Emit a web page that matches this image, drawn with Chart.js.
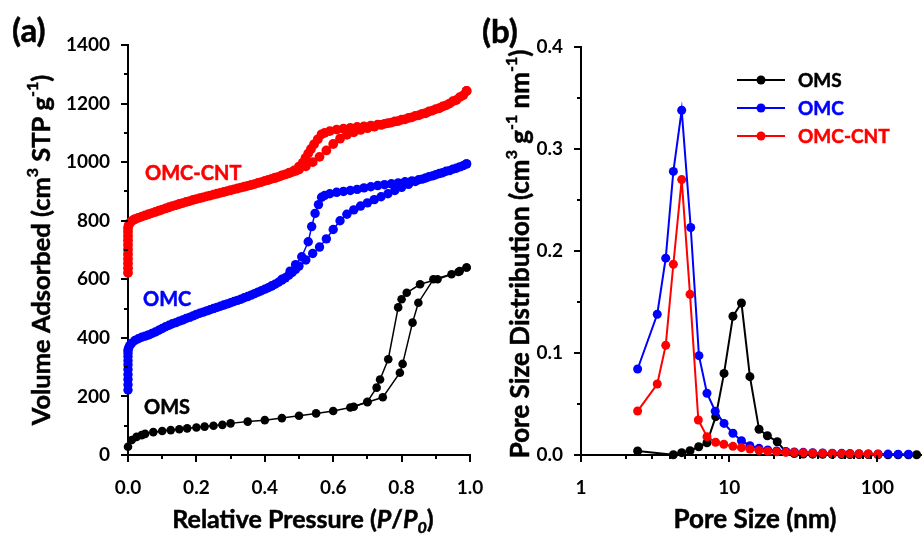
<!DOCTYPE html>
<html><head><meta charset="utf-8">
<script src="https://cdn.jsdelivr.net/npm/chart.js@4"></script>
<style>
html,body{margin:0;padding:0;background:#fff;}
#wrap{position:relative;width:922px;height:537px;overflow:hidden;background:#fff;}
#ca{position:absolute;left:0;top:0;}
#cb{position:absolute;left:480px;top:0;}
</style></head><body>
<div id="wrap">
<canvas id="ca" width="490" height="537"></canvas>
<canvas id="cb" width="442" height="537"></canvas>
</div>
<script>
// ---------- data: panel (a) N2 isotherms ----------
const omsAdsP = [0.000,0.011,0.025,0.040,0.050,0.074,0.100,0.125,0.150,0.173,0.200,0.224,0.250,0.276,0.300,0.350,0.400,0.450,0.500,0.550,0.600,0.650,0.700,0.745,0.795,0.803,0.832,0.849,0.893,0.946,0.970,0.990];
const omsAdsV = [28,51,62,68,72,78,82,85,88,91,94,97,100,103,108,114,119,126,134,142,150,162,180,197,281,311,452,520,600,617,628,640];
const omsDesP = [0.990,0.966,0.905,0.854,0.815,0.800,0.790,0.761,0.737,0.727,0.700,0.660];
const omsDesV = [640,625,600,583,554,532,504,327,258,230,182,165];

const omcAdsP = [0,0,0,0,0,0,0,0,0,0,0.002,0.005,0.01,0.02,0.03,0.04,0.05,
  0.06,0.07,0.08,0.09,0.10,0.11,0.12,0.13,0.14,0.15,0.16,0.17,0.18,0.19,0.20,0.21,0.22,0.23,0.24,0.25,0.26,0.27,0.28,0.29,0.30,
  0.31,0.32,0.33,0.34,0.35,0.36,0.37,0.38,0.39,0.40,0.41,0.42,0.43,0.44,0.45,0.46,0.47,0.48,0.49,0.50,
  0.52,0.54,0.56,0.58,0.60,0.62,0.64,0.66,0.68,0.70,0.72,0.74,0.76,0.78,0.80,0.82,0.84,0.86,0.88,0.90,0.92,0.94,0.96,0.98,0.99];
const omcAdsV = [222,240,258,275,292,308,322,336,348,358,366,374,381,391,397,402,406,
  410,415,420,426,432,438,443,448,452,457,461,466,470,475,480,484,488,492,496,500,504,508,512,516,520,
  524,528,532,537,541,546,551,556,561,566,571,577,583,590,597,605,614,623,634,645,
  666,688,710,738,770,800,822,837,850,861,872,882,892,903,914,924,934,942,950,957,964,971,979,988,994];
const omcDesP = [0.99,0.97,0.95,0.93,0.91,0.89,0.87,0.85,0.83,0.81,0.79,0.77,0.75,0.73,0.71,0.69,0.67,0.65,0.63,0.61,0.59,0.575,0.566,0.557,0.547,0.537,0.527,0.508,0.49,0.474,0.45,0.42];
const omcDesV = [994,984,976,969,961,953,946,940,936,933,929,926,923,920,916,912,907,903,900,897,892,886,880,855,825,780,728,677,650,628,600,577];

const cntAdsP = [0,0,0,0,0,0,0,0,0,0,0,0.002,0.005,0.01,0.015,0.02,0.03,0.04,0.05,
  0.06,0.07,0.08,0.09,0.10,0.11,0.12,0.13,0.14,0.15,0.16,0.17,0.18,0.19,0.20,0.21,0.22,0.23,0.24,0.25,0.26,0.27,0.28,0.29,0.30,
  0.31,0.32,0.33,0.34,0.35,0.36,0.37,0.38,0.39,0.40,0.41,0.42,0.43,0.44,0.45,0.46,0.47,0.48,0.49,0.50,
  0.52,0.54,0.56,0.58,0.60,0.62,0.64,0.66,0.68,0.70,0.72,0.74,0.76,0.78,0.80,0.82,0.84,0.86,0.88,0.90,0.92,0.94,0.96,0.98,0.99];
const cntAdsV = [622,638,654,670,686,702,718,733,748,762,775,785,792,798,802,805,810,814,818,
  822,826,830,834,838,842,846,850,853,857,860,864,867,871,874,877,880,883,886,889,892,895,898,901,904,
  907,910,913,916,919,922,925,929,932,936,939,943,946,950,954,958,962,966,970,975,
  986,1000,1018,1040,1062,1080,1093,1102,1110,1116,1121,1127,1133,1139,1145,1151,1158,1165,1173,1181,1190,1200,1212,1228,1243];
const cntDesP = [0.99,0.97,0.95,0.93,0.91,0.89,0.87,0.85,0.83,0.81,0.79,0.77,0.75,0.73,0.71,0.69,0.67,0.65,0.63,0.61,0.59,0.575,0.566,0.555,0.544,0.535,0.527,0.519,0.511,0.5,0.486,0.472,0.45,0.43];
const cntDesV = [1243,1222,1208,1194,1184,1176,1167,1160,1153,1146,1140,1135,1131,1128,1125,1122,1120,1117,1114,1111,1106,1100,1095,1078,1061,1045,1030,1014,998,985,972,964,955,947];

// ---------- data: panel (b) pore size distributions ----------
const omsPoreD = [2.41,4.20,4.78,5.44,6.23,7.08,8.11,9.23,10.6,12.1,13.8,15.9,18.1,21.1,24.1,27.5,31.6,36.6,42.7,49.6,57.4,65.3,75.2,86.8,101,118,138,162,184];
const omsPsd   = [0.0039,0.0003,0.0023,0.0042,0.0081,0.012,0.0376,0.080,0.136,0.149,0.0768,0.0252,0.0189,0.013,0.003,0.0015,0.001,0.0008,0.0007,0.0006,0.0005,0.0005,0.0004,0.0004,0.0003,0.0003,0.0003,0.0003,0.0002];
const omcPoreD = [2.41,3.27,3.73,4.20,4.78,5.50,6.25,7.08,8.05,9.23,10.6,12.1,13.8,15.9,18.2,20.9,24.1,27.5,31.6,36.6,42.7,49.6,57.4,65.3,75.2,86.8,101,118,138,162];
const omcPsd   = [0.0843,0.138,0.193,0.278,0.338,0.223,0.0974,0.0605,0.043,0.031,0.0213,0.014,0.0091,0.0065,0.005,0.004,0.0034,0.003,0.0026,0.0023,0.002,0.0018,0.0016,0.0014,0.0012,0.0011,0.001,0.0009,0.0008,0.0007];
const cntPoreD = [2.41,3.27,3.73,4.20,4.78,5.44,6.19,7.08,8.10,9.20,10.6,12.1,13.8,15.9,18.2,20.9,24.1,27.5,31.6,36.6,42.7,49.6,57.4,65.3,75.2,86.8,101];
const cntPsd   = [0.0431,0.0696,0.1075,0.187,0.270,0.1575,0.0343,0.018,0.0125,0.0105,0.0085,0.0072,0.0058,0.0045,0.0037,0.0031,0.0027,0.0024,0.0021,0.0019,0.0017,0.0015,0.0013,0.0012,0.0011,0.001,0.0008];

// ---------- ticks / labels ----------
const pressureTicks = [0,0.2,0.4,0.6,0.8,1.0];
const pressureMinor = [0.1,0.3,0.5,0.7,0.9];
const volumeTicks = [0,200,400,600,800,1000,1200,1400];
const volumeMinor = [100,300,500,700,900,1100,1300];
const poreTicks = [1,10,100];
const poreMinor = [2,3,4,5,6,7,8,9,20,30,40,50,60,70,80,90];
const psdTicks = [0,0.1,0.2,0.3,0.4];
const psdMinor = [0.05,0.15,0.25,0.35];
const seriesNames = ['OMS','OMC','OMC-CNT'];
const seriesColors = ['#000000','#0000ff','#ff0000'];

const FAM = 'Lato, "Open Sans", "DejaVu Sans", sans-serif';
Chart.defaults.font.family = FAM;
Chart.defaults.font.weight = 'bold';
Chart.defaults.color = '#000';

function pairs(xs, ys){ return xs.map((x,i)=>({x:x, y:ys[i]})); }

function richText(ctx, runs, x, y, size, rot, align){
  ctx.save();
  ctx.translate(x, y);
  if (rot) ctx.rotate(rot);
  const fontFor = r => (r.it ? 'italic ' : '') + 'bold ' + ((r.sup||r.sub) ? Math.round(size*0.62) : size) + 'px ' + FAM;
  let w = 0;
  runs.forEach(r => { ctx.font = fontFor(r); r.w = ctx.measureText(r.t).width; w += r.w; });
  let cx = align === 'left' ? 0 : -w/2;
  ctx.textBaseline = 'alphabetic';
  ctx.textAlign = 'left';
  const base = size*0.36;
  runs.forEach(r => {
    ctx.font = fontFor(r);
    const dy = r.sup ? -size*0.47 : (r.sub ? size*0.2 : 0);
    ctx.fillStyle = r.c || '#000';
    ctx.strokeStyle = r.c || '#000';
    ctx.lineWidth = 0.5;
    ctx.fillText(r.t, cx, base + dy);
    ctx.strokeText(r.t, cx, base + dy);
    cx += r.w;
  });
  ctx.restore();
}

const tickPlugin = {
  id: 'minorTicks',
  afterDraw(chart, args, opts){
    const ctx = chart.ctx;
    ctx.save();
    ctx.strokeStyle = '#000';
    ctx.lineWidth = 2;
    Object.keys(opts.scales || {}).forEach(id => {
      const s = chart.scales[id];
      const spec = opts.scales[id];
      const draw = (v, len) => {
        ctx.beginPath();
        const p = Math.round(s.getPixelForValue(v));
        if (s.isHorizontal()) { ctx.moveTo(p, s.top); ctx.lineTo(p, s.top + len); }
        else { ctx.moveTo(s.right - len, p); ctx.lineTo(s.right, p); }
        ctx.stroke();
      };
      spec.major.forEach(v => draw(v, 7));
      spec.minor.forEach(v => draw(v, 4));
    });
    ctx.restore();
  }
};

function lineDs(data, color, lw, r, order){
  return {data:data, showLine:true, borderColor:color, backgroundColor:color,
    pointBackgroundColor:color, pointBorderColor:color, pointBorderWidth:0,
    pointRadius:r, borderWidth:lw, tension:0, clip:false, order:order};
}
function fitX(h){ return s => { s.height = h; s.paddingLeft = 0; s.paddingRight = 0; }; }
function fitY(w){ return s => { s.width = w; s.paddingTop = 0; s.paddingBottom = 0; }; }

// ---------- panel (a) ----------
const textA = {
  id:'textA',
  afterDraw(chart){
    const ctx = chart.ctx;
    richText(ctx, [{t:'(a)'}], 12, 30, 33, 0, 'left');
    richText(ctx, [{t:'OMC-CNT', c:seriesColors[2]}], 145, 173, 20, 0, 'left');
    richText(ctx, [{t:'OMC', c:seriesColors[1]}], 143, 299, 20, 0, 'left');
    richText(ctx, [{t:'OMS', c:seriesColors[0]}], 144, 407, 20, 0, 'left');
    richText(ctx, [{t:'Relative Pressure ('},{t:'P', it:true},{t:'/'},{t:'P', it:true},{t:'0', it:true, sub:true},{t:')'}], 303, 519, 25, 0);
    richText(ctx, [{t:'Volume Adsorbed (cm'},{t:'3', sup:true},{t:' STP g'},{t:'-1', sup:true},{t:')'}], 41, 250, 25.5, -Math.PI/2);
  }
};

new Chart(document.getElementById('ca'), {
  type:'scatter',
  data:{datasets:[
    lineDs(pairs(omsAdsP, omsAdsV), seriesColors[0], 1.5, 4.3, 0),
    lineDs(pairs(omsDesP, omsDesV), seriesColors[0], 1.5, 4.3, 0),
    lineDs(pairs(omcAdsP, omcAdsV), seriesColors[1], 1.5, 4.7, 1),
    lineDs(pairs(omcDesP, omcDesV), seriesColors[1], 1.5, 4.7, 1),
    lineDs(pairs(cntAdsP, cntAdsV), seriesColors[2], 1.5, 4.9, 2),
    lineDs(pairs(cntDesP, cntDesV), seriesColors[2], 1.5, 4.9, 2)
  ]},
  options:{
    responsive:false, animation:false, events:[],
    layout:{autoPadding:false, padding:{top:45, right:20, left:0, bottom:0}},
    plugins:{legend:{display:false}, tooltip:{enabled:false},
      minorTicks:{scales:{x:{major:pressureTicks, minor:pressureMinor}, y:{major:volumeTicks, minor:volumeMinor}}}},
    scales:{
      x:{type:'linear', min:0, max:1, position:'bottom',
        afterFit: fitX(82),
        afterBuildTicks(s){ s.ticks = pressureTicks.map(v=>({value:v})); },
        ticks:{callback:v=>Number(v).toFixed(1), font:{size:19, weight:'bold'}, color:'#000', padding:21, maxRotation:0, autoSkip:false},
        grid:{display:true, drawOnChartArea:false, drawTicks:false},
        border:{display:true, color:'#000', width:2}},
      y:{type:'linear', min:0, max:1400, position:'left',
        afterFit: fitY(128),
        afterBuildTicks(s){ s.ticks = volumeTicks.map(v=>({value:v})); },
        ticks:{callback:v=>String(v), font:{size:19, weight:'bold'}, color:'#000', padding:18, autoSkip:false},
        grid:{display:true, drawOnChartArea:false, drawTicks:false},
        border:{display:true, color:'#000', width:2}}
    }
  },
  plugins:[tickPlugin, textA]
});

// ---------- panel (b) ----------
const textB = {
  id:'textB',
  afterDraw(chart){
    const ctx = chart.ctx;
    richText(ctx, [{t:'(b)'}], 2, 31, 33, 0, 'left');
    for (let i = 0; i < 3; i++) {
      const y = 80 + 28*i;
      ctx.save();
      ctx.strokeStyle = seriesColors[i];
      ctx.fillStyle = seriesColors[i];
      ctx.lineWidth = 2;
      ctx.beginPath(); ctx.moveTo(257, y); ctx.lineTo(305, y); ctx.stroke();
      ctx.beginPath(); ctx.arc(281, y, 4.5, 0, Math.PI*2); ctx.fill();
      ctx.restore();
      richText(ctx, [{t:seriesNames[i], c:seriesColors[i]}], 318, y, 19, 0, 'left');
    }
    richText(ctx, [{t:'Pore Size (nm)'}], 275, 519, 26, 0);
    richText(ctx, [{t:'Pore Size Distribution (cm'},{t:'3', sup:true},{t:' g'},{t:'-1', sup:true},{t:' nm'},{t:'-1', sup:true},{t:')'}], 40, 254, 26, -Math.PI/2);
  }
};

new Chart(document.getElementById('cb'), {
  type:'scatter',
  data:{datasets:[
    lineDs(pairs(omsPoreD, omsPsd), seriesColors[0], 2, 4.5, 2),
    lineDs(pairs(omcPoreD, omcPsd), seriesColors[1], 2, 4.5, 1),
    lineDs(pairs(cntPoreD, cntPsd), seriesColors[2], 2, 4.5, 0)
  ]},
  options:{
    responsive:false, animation:false, events:[],
    layout:{autoPadding:false, padding:{top:47, right:0, left:0, bottom:0}},
    plugins:{legend:{display:false}, tooltip:{enabled:false},
      minorTicks:{scales:{x:{major:poreTicks, minor:poreMinor}, y:{major:psdTicks, minor:psdMinor}}}},
    scales:{
      x:{type:'logarithmic', min:1, max:200, position:'bottom',
        afterFit: fitX(82),
        afterBuildTicks(s){ s.ticks = poreTicks.map(v=>({value:v})); },
        ticks:{callback:v=>String(v), font:{size:19, weight:'bold'}, color:'#000', padding:21, maxRotation:0, autoSkip:false},
        grid:{display:true, drawOnChartArea:false, drawTicks:false},
        border:{display:true, color:'#000', width:2}},
      y:{type:'linear', min:0, max:0.4, position:'left',
        afterFit: fitY(101),
        afterBuildTicks(s){ s.ticks = psdTicks.map(v=>({value:v})); },
        ticks:{callback:v=>Number(v).toFixed(1), font:{size:19, weight:'bold'}, color:'#000', padding:18, autoSkip:false},
        grid:{display:true, drawOnChartArea:false, drawTicks:false},
        border:{display:true, color:'#000', width:2}}
    }
  },
  plugins:[tickPlugin, textB]
});
</script>
</body></html>
